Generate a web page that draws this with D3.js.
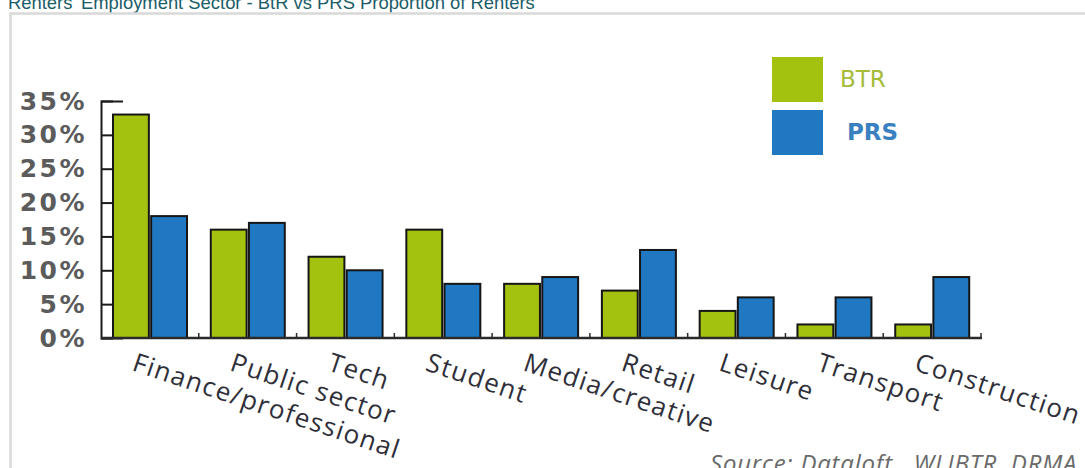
<!DOCTYPE html>
<html>
<head>
<meta charset="utf-8">
<script src="https://cdn.jsdelivr.net/npm/d3@7"></script>
<style>
  html, body { margin: 0; padding: 0; background: #fff; }
  svg { display: block; }
</style>
</head>
<body>
<svg id="chart" width="1085" height="468"></svg>
<script>
// Employment sector of renters: Build-to-Rent vs private rented sector (% of renters)
const categories = ["Finance/professional", "Public sector", "Tech", "Student", "Media/creative",
                    "Retail", "Leisure", "Transport", "Construction"];
const series = ["BTR", "PRS"];
const btrValues = [33, 16, 12, 16, 8, 7, 4, 2, 2];
const prsValues = [18, 17, 10, 8, 9, 13, 6, 6, 9];
const yTicks = [0, 5, 10, 15, 20, 25, 30, 35];
const seriesColors = ["#a3c10f", "#1f78c1"];
const legendTextColors = ["#a6bb39", "#3a7fc0"];

const titleText = "Renters' Employment Sector - BtR vs PRS Proportion of Renters";
const sourceText = "Source: Dataloft , WLIBTR, DRMA";

const svg = d3.select("#chart");

// title and surrounding frame
svg.append("text")
  .attr("x", 8).attr("y", 8.5)
  .attr("font-family", "Liberation Sans, Arial, sans-serif")
  .attr("font-size", 18.4)
  .attr("fill", "#1b5d68")
  .text(titleText);

svg.append("path")
  .attr("d", "M10.5,480V13.5H1090")
  .attr("fill", "none")
  .attr("stroke", "#d9d9d9")
  .attr("stroke-width", 2.5);

const plotLeft = 101, plotRight = 981, plotTop = 101, plotBottom = 338;

const x0 = d3.scaleBand().domain(categories).range([plotLeft, plotRight]).padding(0);
const x1 = d3.scaleBand().domain(series).range([12, 86]).paddingInner(0.06);
const y = d3.scaleLinear().domain([0, 35]).range([plotBottom, plotTop]);

const rows = categories.map((c, i) => ({ cat: c, vals: [btrValues[i], prsValues[i]] }));

// bars
const groups = svg.append("g").selectAll("g")
  .data(rows).join("g")
  .attr("transform", d => `translate(${x0(d.cat)},0)`);

groups.selectAll("rect")
  .data(d => d.vals.map((v, j) => ({ key: series[j], v, j })))
  .join("rect")
  .attr("x", d => x1(d.key))
  .attr("y", d => y(d.v))
  .attr("width", x1.bandwidth())
  .attr("height", d => y(0) - y(d.v))
  .attr("fill", d => seriesColors[d.j])
  .attr("stroke", "#161616")
  .attr("stroke-width", 2);

// y axis: ticks point into the plot, labels to the left
const yAxis = d3.axisLeft(y)
  .tickValues(yTicks)
  .tickFormat(d => d + "%")
  .tickSizeInner(-12)
  .tickSizeOuter(-22)
  .tickPadding(14);

const yg = svg.append("g")
  .attr("transform", `translate(${plotLeft},0)`)
  .call(yAxis);
yg.selectAll("path, line").attr("stroke", "#1a1a1a").attr("stroke-width", 2);
yg.selectAll("text")
  .attr("font-family", "DejaVu Sans, Verdana, sans-serif")
  .attr("font-weight", "bold")
  .attr("font-size", 25)
  .attr("letter-spacing", 2.5)
  .attr("fill", "#5b5b5b");

// x axis baseline with small separators between groups
const xg = svg.append("g").attr("transform", `translate(0,${plotBottom})`);
xg.append("line")
  .attr("x1", plotLeft).attr("x2", plotRight + 1)
  .attr("stroke", "#2a2a2a").attr("stroke-width", 2.5);
xg.selectAll("line.sep")
  .data(categories).join("line")
  .attr("class", "sep")
  .attr("x1", d => x0(d) + x0.step()).attr("x2", d => x0(d) + x0.step())
  .attr("y1", 0).attr("y2", -5)
  .attr("stroke", "#2a2a2a").attr("stroke-width", 1.5);

// slanted category labels
xg.selectAll("text.cat")
  .data(categories).join("text")
  .attr("class", "cat")
  .attr("transform", d => `translate(${x0(d) + 30},${32}) rotate(18.5)`)
  .attr("font-family", "Open Sans, sans-serif")
  .attr("font-size", 26)
  .attr("letter-spacing", 1.4)
  .attr("fill", "#2f2f39")
  .text(d => d);

// legend
const legend = svg.append("g").attr("transform", "translate(772,57)");
series.forEach((s, i) => {
  legend.append("rect")
    .attr("x", 0).attr("y", i * 53)
    .attr("width", 51).attr("height", 45)
    .attr("fill", seriesColors[i]);
  legend.append("text")
    .attr("x", 68 + i * 7).attr("y", i * 53 + 22)
    .attr("dy", "0.36em")
    .attr("font-family", "DejaVu Sans, Verdana, sans-serif")
    .attr("font-weight", i === 0 ? "normal" : "bold")
    .attr("font-size", 23)
    .attr("fill", legendTextColors[i])
    .text(s);
});

// source note
svg.append("text")
  .attr("x", 710).attr("y", 472)
  .attr("font-family", "Open Sans, sans-serif")
  .attr("font-style", "italic")
  .attr("font-size", 24)
  .attr("letter-spacing", 0.8)
  .attr("fill", "#6a6a6a")
  .text(sourceText);
</script>
</body>
</html>
